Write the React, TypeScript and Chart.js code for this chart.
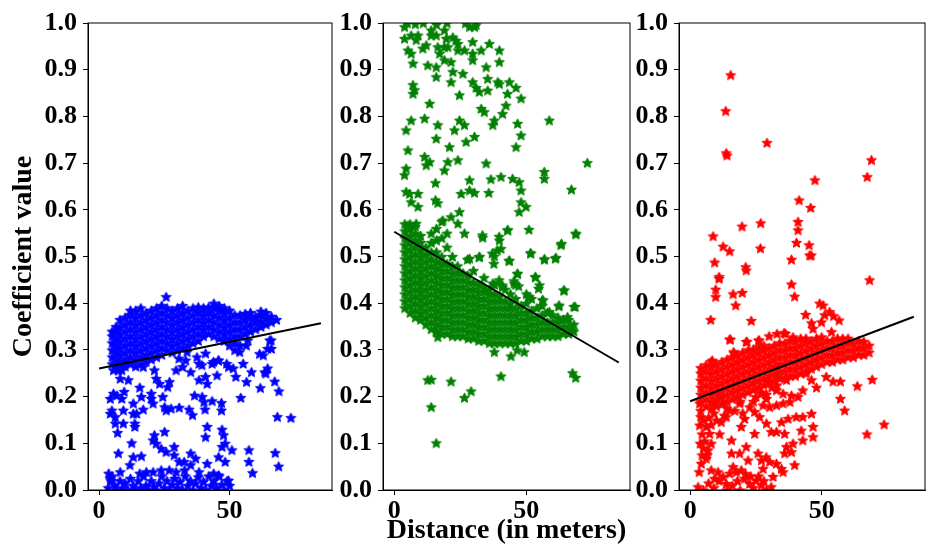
import { useEffect, useRef } from "react";
import { Chart, registerables } from "chart.js";

Chart.register(...registerables);

type Pt = [number, number];
type Column = [number, number[]];

// tick labels
const xTicks = [0, 50];
const yTicks = [0, 0.1, 0.2, 0.3, 0.4, 0.5, 0.6, 0.7, 0.8, 0.9, 1.0];

// fitted trend lines (one per panel): value at the start and the end of fitX
const fitX = [0, 85];
const fitStart = [0.26, 0.553, 0.19];
const fitEnd = [0.357, 0.273, 0.371];

// ---- blue panel ----
const blueBand: Column[] = [
  [5, [0.27, 0.285, 0.3, 0.315, 0.33, 0.34]],
  [6.5, [0.265, 0.28, 0.295, 0.31, 0.325, 0.34, 0.35]],
  [8, [0.26, 0.275, 0.29, 0.305, 0.32, 0.335, 0.35, 0.365]],
  [10, [0.265, 0.28, 0.295, 0.31, 0.325, 0.34, 0.355, 0.37]],
  [12, [0.27, 0.285, 0.3, 0.315, 0.33, 0.345, 0.36, 0.375, 0.385]],
  [14, [0.265, 0.28, 0.295, 0.31, 0.325, 0.34, 0.355, 0.37, 0.385]],
  [16, [0.27, 0.285, 0.3, 0.315, 0.33, 0.345, 0.36, 0.375, 0.39]],
  [18, [0.275, 0.29, 0.305, 0.32, 0.335, 0.35, 0.365, 0.38]],
  [20, [0.28, 0.295, 0.31, 0.325, 0.34, 0.355, 0.37, 0.385]],
  [22, [0.285, 0.3, 0.315, 0.33, 0.345, 0.36, 0.375, 0.39]],
  [24, [0.29, 0.305, 0.32, 0.335, 0.35, 0.365, 0.38, 0.395]],
  [26, [0.3, 0.315, 0.33, 0.345, 0.36, 0.375, 0.39]],
  [28, [0.295, 0.31, 0.325, 0.34, 0.355, 0.37, 0.385]],
  [30, [0.3, 0.315, 0.33, 0.345, 0.36, 0.375, 0.39]],
  [32, [0.305, 0.32, 0.335, 0.35, 0.365, 0.38, 0.395]],
  [34, [0.31, 0.325, 0.34, 0.355, 0.37, 0.385]],
  [36, [0.315, 0.33, 0.345, 0.36, 0.375, 0.39]],
  [38, [0.32, 0.335, 0.35, 0.365, 0.38, 0.392]],
  [40, [0.33, 0.345, 0.36, 0.375, 0.39]],
  [42, [0.335, 0.35, 0.365, 0.38, 0.392]],
  [44, [0.33, 0.345, 0.36, 0.375, 0.39, 0.4]],
  [46, [0.325, 0.34, 0.355, 0.37, 0.385, 0.395]],
  [48, [0.32, 0.335, 0.35, 0.365, 0.38, 0.39]],
  [50, [0.31, 0.325, 0.34, 0.355, 0.37, 0.385]],
  [52, [0.3, 0.315, 0.33, 0.345, 0.36, 0.375]],
  [54, [0.31, 0.33, 0.345, 0.36, 0.375]],
  [56, [0.335, 0.35, 0.365, 0.378]],
  [58, [0.34, 0.355, 0.37, 0.38]],
  [60, [0.345, 0.36, 0.372]],
  [62, [0.35, 0.362, 0.375, 0.383]],
  [64, [0.355, 0.368, 0.38]],
  [66, [0.36, 0.372]],
  [68, [0.365]],
];

const blueScatter: Pt[] = [
  [25.7, 0.414], [73.5, 0.155], [68.3, 0.157], [68.8, 0.051], [67.5, 0.08], [58.8, 0.037],
  [57.4, 0.061], [57.4, 0.086], [50.9, 0.086], [54.3, 0.198], [61.8, 0.219], [68.9, 0.212],
  [67.3, 0.233], [63.5, 0.253], [62.9, 0.289], [66.0, 0.303], [65.4, 0.321], [58.4, 0.253],
  [56.5, 0.232], [52.4, 0.243], [49.6, 0.264], [45.8, 0.278], [43.3, 0.271], [45.2, 0.246],
  [40.8, 0.293], [38.3, 0.271], [35.1, 0.253], [38.3, 0.236], [40.8, 0.243], [41.4, 0.228],
  [36.6, 0.203], [39.5, 0.2], [40.2, 0.189], [43.3, 0.191], [46.9, 0.187], [46.9, 0.171],
  [40.6, 0.173], [34.5, 0.173], [35.8, 0.161], [30.7, 0.177], [27.6, 0.175], [25.1, 0.178],
  [24.4, 0.2], [21.9, 0.239], [23.2, 0.228], [26.3, 0.221], [27.0, 0.232], [29.5, 0.257],
  [32.0, 0.264], [33.2, 0.278], [20.0, 0.196], [20.0, 0.207], [20.7, 0.186], [16.9, 0.173],
  [16.2, 0.2], [15.6, 0.22], [13.1, 0.186], [13.1, 0.164], [14.4, 0.164], [13.7, 0.143],
  [13.7, 0.136], [9.3, 0.171], [9.3, 0.143], [6.2, 0.143], [7.1, 0.123], [4.9, 0.171],
  [4.3, 0.164], [6.2, 0.157], [4.3, 0.196], [5.5, 0.207], [6.8, 0.203], [9.6, 0.211],
  [8.7, 0.196], [11.2, 0.236], [8.1, 0.239], [7.4, 0.257], [5.5, 0.257], [8.7, 0.257],
  [9.9, 0.275], [16.9, 0.264], [21.2, 0.257], [25.7, 0.171], [25.1, 0.125], [21.2, 0.118],
  [20.7, 0.107], [21.9, 0.1], [23.8, 0.089], [25.7, 0.082], [28.8, 0.093], [28.8, 0.075],
  [30.7, 0.061], [32.6, 0.061], [35.1, 0.079], [37.0, 0.068], [35.1, 0.054], [40.8, 0.114],
  [41.4, 0.136], [47.1, 0.13], [47.7, 0.118], [48.3, 0.1], [47.1, 0.093], [45.8, 0.071],
  [48.3, 0.061], [41.4, 0.057], [12.5, 0.101], [16.2, 0.073], [13.1, 0.071], [11.8, 0.054],
  [7.4, 0.079], [8.1, 0.039], [3.7, 0.036], [4.3, 0.025], [15.6, 0.036], [18.1, 0.039],
  [20.7, 0.039], [23.8, 0.043], [26.9, 0.043], [29.5, 0.039], [32.8, 0.043], [38.3, 0.039],
  [43.9, 0.036], [45.8, 0.032], [49.6, 0.021], [30.6, 0.282], [33.7, 0.296], [37.5, 0.285],
  [39.4, 0.268], [43.8, 0.275], [45.7, 0.278], [48.9, 0.271], [51.4, 0.261], [55.2, 0.271],
  [56.4, 0.31], [53.9, 0.296], [57.0, 0.321], [61.5, 0.292], [64.6, 0.303], [65.9, 0.321],
  [64.6, 0.261], [63.9, 0.25],
];

const blueFloor: Pt[] = [
  [3.5, 0.005], [4.5, 0.02], [5, 0.03], [6, 0.01], [7, 0.0], [8, 0.02], [9, 0.005], [10, 0.015],
  [11, 0.0], [12, 0.025], [13, 0.01], [14, 0.0], [15, 0.02], [16, 0.005], [17, 0.03], [18, 0.01],
  [19, 0.0], [20, 0.02], [21, 0.008], [22, 0.0], [23, 0.015], [24, 0.03], [25, 0.005], [26, 0.02],
  [27, 0.0], [28, 0.012], [29, 0.025], [30, 0.005], [31, 0.018], [32, 0.0], [33, 0.03], [34, 0.01],
  [35, 0.02], [36, 0.0], [37, 0.015], [38, 0.028], [39, 0.005], [40, 0.018], [41, 0.0], [42, 0.03],
  [43, 0.01], [44, 0.02], [45, 0.005], [46, 0.03], [47, 0.012], [48, 0.0], [49, 0.02], [50, 0.01],
];

// ---- green panel ----
const greenCore: Column[] = [
  [4, [0.39, 0.405, 0.42, 0.435, 0.45, 0.465, 0.48, 0.495, 0.51, 0.525, 0.54, 0.555, 0.57]],
  [6, [0.38, 0.395, 0.41, 0.425, 0.44, 0.455, 0.47, 0.485, 0.5, 0.515, 0.53, 0.545, 0.56, 0.57]],
  [8, [0.37, 0.385, 0.4, 0.415, 0.43, 0.445, 0.46, 0.475, 0.49, 0.505, 0.52, 0.535, 0.55, 0.565]],
  [10, [0.365, 0.38, 0.395, 0.41, 0.425, 0.44, 0.455, 0.47, 0.485, 0.5, 0.515, 0.53, 0.545]],
  [12, [0.355, 0.37, 0.385, 0.4, 0.415, 0.43, 0.445, 0.46, 0.475, 0.49, 0.505, 0.52]],
  [14, [0.345, 0.36, 0.375, 0.39, 0.405, 0.42, 0.435, 0.45, 0.465, 0.48, 0.495, 0.51, 0.53, 0.55]],
  [16, [0.34, 0.355, 0.37, 0.385, 0.4, 0.415, 0.43, 0.445, 0.46, 0.475, 0.49, 0.51, 0.535, 0.56]],
  [18, [0.335, 0.35, 0.365, 0.38, 0.395, 0.41, 0.425, 0.44, 0.455, 0.47, 0.485, 0.5, 0.54, 0.575]],
  [20, [0.335, 0.35, 0.365, 0.38, 0.395, 0.41, 0.425, 0.44, 0.455, 0.47, 0.485, 0.52, 0.55]],
  [22, [0.33, 0.345, 0.36, 0.375, 0.39, 0.405, 0.42, 0.435, 0.45, 0.465, 0.48, 0.5]],
  [24, [0.33, 0.345, 0.36, 0.375, 0.39, 0.405, 0.42, 0.435, 0.45, 0.465, 0.48]],
  [26, [0.33, 0.345, 0.36, 0.375, 0.39, 0.405, 0.42, 0.435, 0.45, 0.465]],
  [28, [0.325, 0.34, 0.355, 0.37, 0.385, 0.4, 0.415, 0.43, 0.445, 0.46]],
  [30, [0.325, 0.34, 0.355, 0.37, 0.385, 0.4, 0.415, 0.43, 0.445, 0.47]],
  [32, [0.32, 0.335, 0.35, 0.365, 0.38, 0.395, 0.41, 0.425, 0.44]],
  [34, [0.32, 0.335, 0.35, 0.365, 0.38, 0.395, 0.41, 0.425, 0.435, 0.455]],
  [36, [0.315, 0.33, 0.345, 0.36, 0.375, 0.39, 0.405, 0.42, 0.43]],
  [38, [0.315, 0.33, 0.345, 0.36, 0.375, 0.39, 0.405, 0.42, 0.44]],
  [40, [0.315, 0.33, 0.345, 0.36, 0.375, 0.39, 0.405, 0.415]],
  [42, [0.315, 0.33, 0.345, 0.36, 0.375, 0.39, 0.405, 0.43]],
  [44, [0.315, 0.33, 0.345, 0.36, 0.375, 0.39, 0.4, 0.42]],
  [46, [0.315, 0.33, 0.345, 0.36, 0.375, 0.39, 0.41, 0.44]],
  [48, [0.32, 0.335, 0.35, 0.365, 0.38, 0.395]],
  [50, [0.32, 0.335, 0.35, 0.365, 0.38, 0.4, 0.42]],
  [52, [0.325, 0.34, 0.355, 0.37, 0.385, 0.41]],
  [54, [0.325, 0.34, 0.355, 0.37, 0.39]],
  [56, [0.33, 0.345, 0.36, 0.375, 0.395]],
  [58, [0.33, 0.345, 0.36, 0.38]],
  [60, [0.33, 0.345, 0.36, 0.375]],
  [62, [0.33, 0.345, 0.36, 0.37]],
  [64, [0.335, 0.35, 0.365]],
  [66, [0.335, 0.35, 0.365]],
  [68, [0.34, 0.355]],
];

const greenScatter: Pt[] = [
  [3.9, 0.992], [3.9, 0.967], [5.2, 0.942], [6.4, 0.935], [7.1, 0.914], [6.4, 0.974], [9.0, 0.974],
  [8.3, 0.964], [10.8, 0.946], [12.1, 0.953], [14.0, 0.974], [14.0, 0.985], [15.9, 0.974],
  [16.5, 0.949], [17.2, 0.935], [19.0, 0.985], [19.0, 0.949], [19.7, 0.967], [20.3, 0.949],
  [22.2, 0.97], [23.4, 0.963], [24.1, 0.956], [24.1, 0.942], [12.7, 0.91], [15.9, 0.906],
  [15.9, 0.885], [19.0, 0.921], [21.5, 0.917], [22.2, 0.896], [21.5, 0.874], [26.0, 0.892],
  [24.7, 0.846], [26.6, 0.942], [28.5, 0.992], [30.4, 0.992], [29.7, 0.96], [29.7, 0.935],
  [29.7, 0.921], [32.9, 0.942], [36.0, 0.956], [39.8, 0.942], [39.8, 0.917], [34.8, 0.906],
  [35.4, 0.881], [39.2, 0.874], [29.7, 0.874], [31.0, 0.862], [32.2, 0.853], [35.4, 0.856],
  [39.8, 0.87], [43.6, 0.874], [46.1, 0.862], [42.9, 0.849], [48.0, 0.839], [42.3, 0.824],
  [41.0, 0.806], [37.9, 0.792], [37.3, 0.782], [32.9, 0.817], [34.1, 0.81], [13.4, 0.828],
  [7.1, 0.868], [7.7, 0.857], [7.1, 0.849], [6.4, 0.792], [4.5, 0.771], [11.5, 0.796],
  [16.5, 0.782], [15.9, 0.753], [20.9, 0.735], [22.8, 0.771], [24.7, 0.792], [26.6, 0.782],
  [27.2, 0.746], [30.4, 0.757], [46.7, 0.785], [48.0, 0.76], [46.1, 0.735], [58.7, 0.792],
  [5.2, 0.728], [4.5, 0.689], [3.9, 0.675], [12.1, 0.696], [13.4, 0.703], [11.5, 0.714],
  [19.0, 0.685], [20.3, 0.703], [24.1, 0.707], [34.8, 0.7], [73.1, 0.701], [15.6, 0.658],
  [28.5, 0.664], [36.6, 0.666], [40.4, 0.671], [44.8, 0.667], [47.3, 0.66], [48.0, 0.642],
  [56.8, 0.682], [56.8, 0.667], [67.1, 0.644], [4.5, 0.639], [5.8, 0.635], [9.0, 0.635],
  [6.4, 0.617], [9.0, 0.607], [15.6, 0.621], [16.5, 0.615], [25.3, 0.635], [28.5, 0.642],
  [30.4, 0.637], [35.8, 0.637], [48.0, 0.617], [49.9, 0.607], [47.3, 0.596], [24.7, 0.596],
  [18.4, 0.578], [21.5, 0.585], [24.1, 0.571], [5.2, 0.567], [8.3, 0.571], [26.6, 0.55],
  [33.5, 0.541], [39.8, 0.535], [43.0, 0.557], [51.0, 0.558], [68.7, 0.55], [63.1, 0.525],
  [51.7, 0.507], [56.8, 0.494], [61.2, 0.498], [40.4, 0.517], [37.9, 0.501], [43.6, 0.492],
  [28.5, 0.496], [32.3, 0.5], [5, 1.0], [8, 0.998], [11, 1.0], [16, 0.997], [20, 1.0],
  [27, 1.0], [31, 0.996],
  [15.9, 0.339], [16.5, 0.328], [12.7, 0.236], [14.0, 0.237], [14.0, 0.178], [15.9, 0.101],
  [21.5, 0.233], [26.6, 0.198], [29.1, 0.212], [37.9, 0.296], [44.2, 0.287], [46.5, 0.3],
  [49.2, 0.296], [40.4, 0.244], [67.5, 0.251], [68.7, 0.241], [64.3, 0.428], [62.4, 0.396],
  [68.5, 0.393], [65.6, 0.371], [67.5, 0.343], [53.4, 0.457], [46.7, 0.464], [54.6, 0.432],
  [56.1, 0.407], [51.1, 0.414], [58.7, 0.382], [45.4, 0.443], [41.0, 0.435], [37.3, 0.443],
  [33.4, 0.546], [39.7, 0.543], [42.9, 0.557], [68.8, 0.548], [63.3, 0.528], [51.6, 0.508],
  [56.9, 0.495], [61.0, 0.496], [43.4, 0.491], [39.0, 0.514], [37.1, 0.507], [32.1, 0.499],
  [27.7, 0.494], [37.7, 0.485], [46.6, 0.463], [53.5, 0.456], [45.3, 0.448], [55.0, 0.439],
  [64.2, 0.428], [68.0, 0.393], [62.3, 0.394], [56.3, 0.407], [50.8, 0.413], [47.1, 0.437],
  [40.9, 0.439], [39.7, 0.45],
];

// ---- red panel ----
const redBand: Column[] = [
  [4, [0.19, 0.205, 0.22, 0.235, 0.25, 0.262]],
  [6, [0.18, 0.195, 0.21, 0.225, 0.24, 0.255, 0.268]],
  [8, [0.175, 0.19, 0.205, 0.22, 0.235, 0.25, 0.265, 0.275]],
  [10, [0.18, 0.195, 0.21, 0.225, 0.24, 0.255, 0.27]],
  [12, [0.185, 0.2, 0.215, 0.23, 0.245, 0.26, 0.275]],
  [14, [0.19, 0.205, 0.22, 0.235, 0.25, 0.265, 0.28]],
  [16, [0.195, 0.21, 0.225, 0.24, 0.255, 0.27, 0.285]],
  [18, [0.2, 0.215, 0.23, 0.245, 0.26, 0.275, 0.29]],
  [20, [0.205, 0.22, 0.235, 0.25, 0.265, 0.28, 0.295]],
  [22, [0.21, 0.225, 0.24, 0.255, 0.27, 0.285, 0.3]],
  [24, [0.215, 0.23, 0.245, 0.26, 0.275, 0.29, 0.302]],
  [26, [0.22, 0.235, 0.25, 0.265, 0.28, 0.295, 0.307]],
  [28, [0.225, 0.24, 0.255, 0.27, 0.285, 0.3, 0.31]],
  [30, [0.23, 0.245, 0.26, 0.275, 0.29, 0.305]],
  [32, [0.235, 0.25, 0.265, 0.28, 0.295, 0.31]],
  [34, [0.24, 0.255, 0.27, 0.285, 0.3, 0.315]],
  [36, [0.24, 0.255, 0.27, 0.285, 0.3, 0.315]],
  [38, [0.245, 0.26, 0.275, 0.29, 0.305, 0.32]],
  [40, [0.245, 0.26, 0.275, 0.29, 0.305, 0.32]],
  [42, [0.25, 0.265, 0.28, 0.295, 0.31, 0.325]],
  [44, [0.255, 0.27, 0.285, 0.3, 0.315, 0.325]],
  [46, [0.26, 0.275, 0.29, 0.305, 0.32]],
  [48, [0.265, 0.28, 0.295, 0.31, 0.325]],
  [50, [0.27, 0.285, 0.3, 0.315, 0.328]],
  [52, [0.275, 0.29, 0.305, 0.32]],
  [54, [0.275, 0.29, 0.305, 0.32]],
  [56, [0.28, 0.295, 0.31, 0.325]],
  [58, [0.28, 0.295, 0.31, 0.325]],
  [60, [0.285, 0.3, 0.315, 0.325]],
  [62, [0.285, 0.3, 0.315]],
  [64, [0.29, 0.305, 0.32]],
  [66, [0.29, 0.305, 0.318]],
  [68, [0.295, 0.31]],
];

const redScatter: Pt[] = [
  [15.4, 0.889], [13.5, 0.812], [13.7, 0.722], [14.0, 0.717], [29.2, 0.744], [68.9, 0.707],
  [67.3, 0.671], [47.4, 0.664], [41.4, 0.621], [45.8, 0.605], [41.0, 0.575], [41.0, 0.557],
  [40.4, 0.53], [45.2, 0.525], [45.4, 0.503], [46.0, 0.503], [38.5, 0.494], [26.8, 0.572],
  [19.7, 0.565], [26.7, 0.518], [21.1, 0.478], [8.7, 0.544], [12.5, 0.522], [15.0, 0.512],
  [9.3, 0.488], [11.0, 0.457], [68.2, 0.45], [11.0, 0.453], [21.3, 0.471], [9.7, 0.43],
  [9.7, 0.414], [16.3, 0.42], [19.8, 0.423], [17.3, 0.396], [7.8, 0.365], [23.2, 0.363],
  [38.5, 0.441], [39.7, 0.415], [43.9, 0.376], [46.1, 0.358], [46.7, 0.346], [49.2, 0.4],
  [50.5, 0.396], [51.1, 0.375], [49.9, 0.36], [53.0, 0.382], [54.5, 0.373], [56.6, 0.364],
  [53.7, 0.339], [15.0, 0.323], [21.3, 0.318], [26.2, 0.321], [35.7, 0.337], [39.1, 0.328],
  [8.4, 0.278], [16.7, 0.293], [69.2, 0.237], [63.5, 0.223], [57.1, 0.196], [58.7, 0.171],
  [67.2, 0.12], [73.7, 0.141], [51.7, 0.243], [54.3, 0.233], [57.1, 0.233], [48.0, 0.22],
  [46.1, 0.236], [44.1, 0.25], [15.3, 0.323], [21.6, 0.318], [26.0, 0.321], [16.5, 0.296],
  [36.2, 0.335], [33, 0.335], [30, 0.33],
  [3.6, 0.186], [4.0, 0.157], [3.6, 0.139], [6.1, 0.136], [7.4, 0.121], [11.2, 0.12],
  [8.0, 0.1], [6.8, 0.086], [6.1, 0.068], [4.2, 0.057], [3.4, 0.039], [3.0, 0.007],
  [8.0, 0.043], [9.3, 0.025], [10.6, 0.039], [12.5, 0.029], [13.7, 0.014], [15.0, 0.036],
  [16.3, 0.05], [17.5, 0.039], [19.4, 0.043], [20.7, 0.025], [22.6, 0.014], [25.1, 0.021],
  [27.1, 0.011], [30.8, 0.007], [15.7, 0.107], [15.7, 0.079], [19.4, 0.136], [21.3, 0.093],
  [22.0, 0.064], [18.8, 0.079], [15.0, 0.171], [11.8, 0.146], [13.7, 0.157], [8.7, 0.186],
  [11.2, 0.2], [24.5, 0.121], [25.8, 0.079], [27.1, 0.064], [28.9, 0.071], [30.2, 0.061],
  [27.7, 0.046], [31.5, 0.029], [32.8, 0.057], [34.7, 0.046], [35.3, 0.039], [35.9, 0.079],
  [36.6, 0.093], [38.5, 0.082], [39.7, 0.054], [39.1, 0.1], [35.9, 0.121], [32.8, 0.125],
  [30.8, 0.125], [34.7, 0.146], [37.2, 0.153], [40.3, 0.157], [42.8, 0.157], [42.2, 0.128],
  [42.8, 0.107], [46.7, 0.136], [46.7, 0.114], [46.1, 0.164], [26.4, 0.157], [29.0, 0.143],
  [30.2, 0.178], [32.8, 0.182], [35.3, 0.186], [37.9, 0.189], [38.5, 0.203], [35.3, 0.207],
  [32.8, 0.214], [27.7, 0.182], [29.0, 0.196], [22.6, 0.178], [20.7, 0.153], [24.5, 0.168],
  [18.8, 0.186], [12.5, 0.186], [41.0, 0.2], [42.8, 0.214], [36.6, 0.236], [32.8, 0.243],
  [29.6, 0.232], [27.1, 0.207],
  [5, 0.0], [7, 0.015], [9, 0.005], [11, 0.02], [14, 0.0], [16, 0.01], [18, 0.02], [19, 0.0],
  [21, 0.035], [23, 0.03], [24, 0.005], [26, 0.03], [28, 0.02], [29, 0.0],
  [4, 0.17], [5, 0.15], [4.5, 0.12], [5.5, 0.105], [5, 0.09], [6.5, 0.075], [4.5, 0.075],
  [3.8, 0.1], [7, 0.155], [9, 0.165], [10, 0.15], [8, 0.14],
  [13, 0.16], [14, 0.175], [17, 0.17], [19, 0.19], [20, 0.165], [24, 0.19], [25, 0.2],
  [27, 0.21], [29, 0.205], [31, 0.22], [33, 0.225],
];

const spread = (cols: Column[]): Pt[] => cols.flatMap(([x, ys]) => ys.map((y): Pt => [x, y]));

const panels = [
  { color: "#0000ff", points: [...spread(blueBand), ...blueScatter, ...blueFloor] },
  { color: "#008000", points: [...spread(greenCore), ...greenScatter] },
  { color: "#ff0000", points: [...spread(redBand), ...redScatter] },
];

// page layout of the three canvases (px)
const frames = [
  { left: 0, width: 338, axisWidth: 88, rightPad: 4, yTitle: true, xTitle: false },
  { left: 338, width: 298, axisWidth: 45, rightPad: 5, yTitle: false, xTitle: true },
  { left: 636, width: 310, axisWidth: 43, rightPad: 21, yTitle: false, xTitle: false },
];

const FAMILY = '"Liberation Serif", "Times New Roman", serif';
const tickFont = { family: FAMILY, size: 26, weight: "bold" as const, lineHeight: 1 };
const titleFont = { family: FAMILY, size: 28, weight: "bold" as const, lineHeight: 1.2 };

function makeStar(color: string) {
  const size = 13;
  const c = document.createElement("canvas");
  c.width = size;
  c.height = size;
  const ctx = c.getContext("2d")!;
  ctx.beginPath();
  for (let i = 0; i < 10; i++) {
    const rad = i % 2 === 0 ? 5.2 : 2.4;
    const a = -Math.PI / 2 + (i * Math.PI) / 5;
    const px = size / 2 + rad * Math.cos(a);
    const py = size / 2 + 0.6 + rad * Math.sin(a);
    if (i === 0) ctx.moveTo(px, py);
    else ctx.lineTo(px, py);
  }
  ctx.closePath();
  ctx.fillStyle = color;
  ctx.fill();
  ctx.lineWidth = 1;
  ctx.lineJoin = "round";
  ctx.strokeStyle = color;
  ctx.stroke();
  return c;
}

const framePlugin = {
  id: "frame",
  afterDatasetsDraw(chart: Chart) {
    const { ctx, chartArea: a } = chart;
    ctx.save();
    ctx.strokeStyle = "#000";
    ctx.lineWidth = 1;
    ctx.strokeRect(a.left, a.top, a.right - a.left, a.bottom - a.top);
    ctx.restore();
  },
};

function Panel({ index }: { index: number }) {
  const canvasRef = useRef<HTMLCanvasElement | null>(null);
  const frame = frames[index];
  const panel = panels[index];

  useEffect(() => {
    const canvas = canvasRef.current;
    if (!canvas) return;

    const chart = new Chart(canvas, {
      type: "scatter",
      data: {
        datasets: [
          {
            data: fitX.map((x, i) => ({ x, y: i === 0 ? fitStart[index] : fitEnd[index] })),
            showLine: true,
            borderColor: "#000",
            borderWidth: 2,
            pointRadius: 0,
            order: 0,
            clip: 0,
          },
          {
            data: panel.points.map(([x, y]) => ({ x, y })),
            pointStyle: makeStar(panel.color),
            pointRadius: 5,
            pointHoverRadius: 5,
            backgroundColor: panel.color,
            borderColor: panel.color,
            order: 1,
            clip: 0,
          },
        ],
      },
      options: {
        responsive: false,
        maintainAspectRatio: false,
        animation: false,
        events: [],
        layout: { padding: { top: 23, right: frame.rightPad, bottom: 0, left: 0 } },
        plugins: { legend: { display: false }, tooltip: { enabled: false } },
        scales: {
          x: {
            type: "linear",
            min: -4.25,
            max: 89.25,
            afterBuildTicks: (axis) => {
              axis.ticks = xTicks.map((value) => ({ value }));
            },
            afterFit: (axis) => {
              axis.height = 67;
            },
            ticks: { font: tickFont, color: "#000", padding: 3, maxRotation: 0, autoSkip: false },
            grid: { display: true, drawOnChartArea: false, drawTicks: true, tickLength: 5, color: "#000" },
            border: { display: true, color: "#000" },
            title: {
              display: frame.xTitle,
              text: "Distance (in meters)",
              font: titleFont,
              color: "#000",
              padding: { top: 0, bottom: 9 },
            },
          },
          y: {
            type: "linear",
            min: 0,
            max: 1,
            afterBuildTicks: (axis) => {
              axis.ticks = yTicks.map((value) => ({ value }));
            },
            afterFit: (axis) => {
              axis.width = frame.axisWidth;
            },
            ticks: {
              font: tickFont,
              color: "#000",
              padding: 6,
              autoSkip: false,
              callback: (v) => Number(v).toFixed(1),
            },
            grid: { display: true, drawOnChartArea: false, drawTicks: true, tickLength: 5, color: "#000" },
            border: { display: true, color: "#000" },
            title: {
              display: frame.yTitle,
              text: "Coefficient value",
              font: titleFont,
              color: "#000",
              padding: { top: 7, bottom: 0 },
            },
          },
        },
      },
      plugins: [framePlugin],
    });

    return () => {
      chart.destroy();
    };
  }, [index]);

  return (
    <canvas
      ref={canvasRef}
      width={frame.width}
      height={557}
      style={{ position: "absolute", left: frame.left, top: 0, width: frame.width, height: 557 }}
    />
  );
}

export default function App() {
  return (
    <div style={{ position: "absolute", left: 0, top: 0, width: 946, height: 557, background: "#fff" }}>
      {frames.map((_, i) => (
        <Panel key={i} index={i} />
      ))}
    </div>
  );
}
